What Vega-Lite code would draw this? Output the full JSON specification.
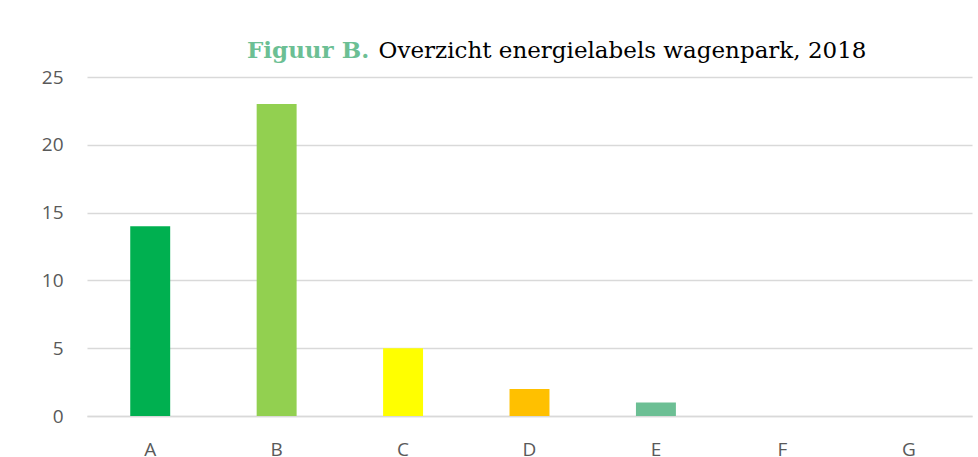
{
  "$schema": "https://vega.github.io/schema/vega-lite/v6.json",
  "width": 885,
  "height": 339,
  "autosize": {"type": "none"},
  "padding": {"left": 87, "top": 77, "right": 6, "bottom": 41},
  "background": "#ffffff",
  "title": {
    "text": "Figuur B.",
    "subtitle": "\u200b\u00a0\u00a0\u00a0\u00a0\u00a0\u00a0\u00a0\u00a0\u00a0\u00a0\u00a0\u00a0\u00a0\u00a0\u00a0\u00a0\u00a0\u00a0Overzicht energielabels wagenpark, 2018",
    "anchor": "start",
    "frame": "group",
    "dx": 160,
    "offset": 5,
    "font": "DejaVu Serif",
    "fontSize": 23,
    "fontWeight": "bold",
    "color": "#6cbf94",
    "subtitleFont": "DejaVu Serif",
    "subtitleFontSize": 23,
    "subtitleFontWeight": "normal",
    "subtitleColor": "#000000",
    "subtitlePadding": -23
  },
  "data": {
    "values": [
      {"label": "A", "count": 14},
      {"label": "B", "count": 23},
      {"label": "C", "count": 5},
      {"label": "D", "count": 2},
      {"label": "E", "count": 1},
      {"label": "F", "count": 0},
      {"label": "G", "count": 0}
    ]
  },
  "mark": {"type": "bar"},
  "encoding": {
    "x": {
      "field": "label",
      "type": "nominal",
      "sort": null,
      "scale": {"paddingInner": 0.684, "paddingOuter": 0.342},
      "axis": {
        "title": null,
        "labelAngle": 0,
        "ticks": false,
        "labelPadding": 24,
        "domainColor": "#d9d9d9",
        "domainWidth": 1.5,
        "labelFont": "Open Sans",
        "labelFontSize": 19,
        "labelColor": "#595959"
      }
    },
    "y": {
      "field": "count",
      "type": "quantitative",
      "scale": {"domain": [0, 25], "nice": false},
      "axis": {
        "title": null,
        "values": [0, 5, 10, 15, 20, 25],
        "ticks": false,
        "domain": false,
        "labelPadding": 24,
        "gridColor": "#d9d9d9",
        "gridWidth": 1.5,
        "labelFont": "Open Sans",
        "labelFontSize": 19,
        "labelColor": "#595959"
      }
    },
    "color": {
      "field": "label",
      "type": "nominal",
      "legend": null,
      "scale": {
        "domain": ["A", "B", "C", "D", "E", "F", "G"],
        "range": ["#00b050", "#92d050", "#ffff00", "#ffc000", "#6cbf94", "#c00000", "#ff0000"]
      }
    }
  },
  "config": {"view": {"stroke": null}}
}
